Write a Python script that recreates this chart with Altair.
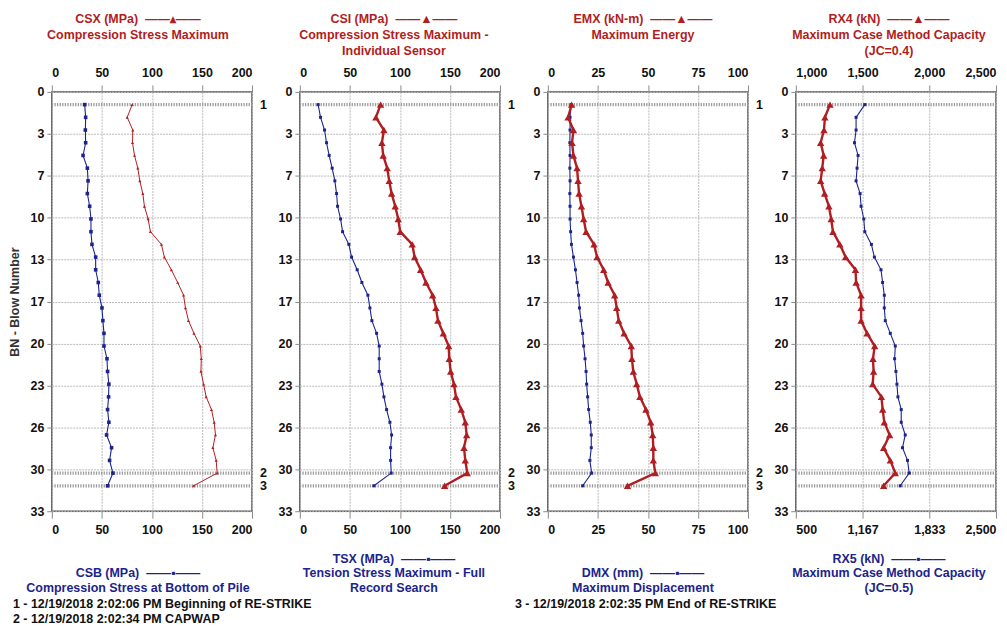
import altair as alt
import pandas as pd

# ---------------- data ----------------
blows = list(range(1, 32))

csx = [80.3, 75.3, 80.9, 80.6, 82.6, 85.9, 87.9, 90.9, 92.5, 96.2,
       98.5, 109.5, 112.4, 119.4, 125.7, 131.6, 133.5, 136.5, 142.0, 148.3,
       149.3, 149.0, 151.6, 154.2, 159.5, 162.2, 163.5, 160.9, 164.2, 165.2, 141.6]
csb = [32.8, 33.8, 33.5, 33.8, 31.2, 35.5, 36.2, 35.5, 37.8, 39.1,
       39.1, 40.1, 43.8, 43.8, 46.4, 47.4, 50.1, 51.0, 52.1, 52.1,
       55.1, 55.7, 57.0, 56.7, 55.7, 57.0, 54.7, 59.7, 57.7, 61.0, 55.7]
csi = [80.7, 76.0, 84.0, 82.0, 83.3, 87.3, 89.3, 91.7, 95.3, 98.3,
       100.3, 112.3, 114.7, 120.7, 126.0, 132.7, 136.0, 138.0, 143.3, 148.7,
       149.3, 150.7, 154.0, 156.0, 161.3, 165.3, 166.7, 164.0, 165.3, 167.3, 144.7]
tsx = [18.3, 20.7, 24.7, 26.7, 29.3, 32.3, 35.0, 36.7, 37.7, 40.7,
       42.7, 49.0, 51.7, 57.3, 62.0, 68.0, 70.0, 72.0, 76.7, 79.3,
       79.3, 79.3, 82.0, 84.0, 86.7, 90.0, 91.7, 90.7, 90.7, 91.3, 74.0]
emx = [11.9, 10.1, 12.8, 12.1, 12.8, 14.6, 15.1, 15.6, 16.8, 17.9,
       19.1, 23.1, 24.6, 27.9, 30.1, 33.4, 34.4, 35.4, 38.1, 41.7,
       42.0, 42.7, 44.4, 46.0, 49.0, 51.4, 52.4, 52.7, 52.7, 53.7, 39.8]
dmx = [11.6, 11.1, 11.1, 11.0, 11.1, 11.0, 11.1, 11.0, 11.1, 11.1,
       11.4, 11.8, 12.8, 13.8, 14.6, 15.4, 15.8, 16.6, 17.4, 17.9,
       18.6, 19.1, 19.4, 19.9, 20.4, 21.2, 21.7, 21.7, 21.0, 21.9, 17.4]
rx4 = [1256, 1218, 1211, 1186, 1209, 1198, 1186, 1216, 1248, 1265,
       1278, 1330, 1373, 1447, 1452, 1489, 1489, 1489, 1534, 1591,
       1578, 1583, 1576, 1641, 1651, 1663, 1703, 1658, 1708, 1745, 1658]
rx5 = [1189, 1102, 1102, 1086, 1122, 1112, 1102, 1142, 1152, 1179,
       1189, 1255, 1285, 1351, 1367, 1384, 1384, 1394, 1444, 1494,
       1487, 1500, 1510, 1520, 1553, 1553, 1593, 1566, 1616, 1633, 1543]

event_blows = [1, 30, 31]
event_labels = ["1", "2", "3"]
event_notes = ["1 - 12/19/2018 2:02:06 PM Beginning of RE-STRIKE",
               "2 - 12/19/2018 2:02:34 PM CAPWAP",
               "3 - 12/19/2018 2:02:35 PM End of RE-STRIKE"]

y_ticks = [0, 3.3, 6.6, 9.9, 13.2, 16.5, 19.8, 23.1, 26.4, 29.7, 33]
ticks_200 = [0, 50, 100, 150, 200]
ticks_100 = [0, 25, 50, 75, 100]
ticks_rx4 = [1000, 1500, 2000, 2500]
ticks_rx5 = [500, 1166.67, 1833.33, 2500]

# ---------------- styling ----------------
RED = "#b01e22"
BLUE = "#1c248c"
FONT = "Liberation Sans, Arial, sans-serif"
FS = 12.5
W, H = 201, 421
SP = "\u00a0"


def make_panel(red_vals, blue_vals, top_title, bottom_title, top_dom, top_ticks,
               bot_dom, bot_ticks, red_w, red_size, blue_size, title_x, bottom_x,
               first=False, show_events=True, footnote=None, foot_dx=0):
    df = pd.DataFrame({"blow": blows, "red": red_vals, "blue": blue_vals})
    ev = pd.DataFrame({"blow": event_blows, "label": event_labels})

    y_axis_kwargs = dict(values=y_ticks, labelExpr="format(datum.value, '.0f')",
                         grid=True, tickSize=5, labelPadding=3)
    if first:
        y_axis_kwargs.update(title="BN - Blow Number", titleX=-37, titleY=H / 2,
                             titleAngle=270, titleAlign="center", titleBaseline="middle",
                             titleColor="#333333", titleFontSize=FS, titleFontWeight="bold")
    else:
        y_axis_kwargs.update(title=None)
    yenc = alt.Y("blow:Q", scale=alt.Scale(domain=[0, 33], reverse=True, nice=False, zero=False),
                 axis=alt.Axis(**y_axis_kwargs))

    rules = alt.Chart(ev).mark_rule(color="#9c9c9c", strokeWidth=3.2,
                                    strokeDash=[1.3, 1.3]).encode(
        y=yenc, x=alt.value(0), x2=alt.value(W))

    red = alt.Chart(df).mark_line(
        color=RED, strokeWidth=red_w,
        point=alt.OverlayMarkDef(shape="triangle-up", filled=True, size=red_size,
                                 color=RED, opacity=1)).encode(
        x=alt.X("red:Q", scale=alt.Scale(domain=top_dom, nice=False, zero=False),
                axis=alt.Axis(orient="top", values=top_ticks, format=",.0f", grid=True,
                              tickSize=7, labelPadding=5, labelFlush=True,
                              title=top_title, titleX=title_x, titleY=-80,
                              titleAlign="center", titleBaseline="top", titleAngle=0,
                              titleColor=RED, titleFontSize=FS, titleFontWeight="bold",
                              titleLineHeight=16)),
        y=yenc,
        order=alt.Order("blow:Q"))

    # the bottom legend block is bottom-aligned: first line moves up by one line per extra line
    bottom_y = 84 - 15 * (len(bottom_title) - 1)
    blue = alt.Chart(df).mark_line(
        color=BLUE, strokeWidth=1.1,
        point=alt.OverlayMarkDef(shape="square", filled=True, size=blue_size,
                                 color=BLUE, opacity=1)).encode(
        x=alt.X("blue:Q", scale=alt.Scale(domain=bot_dom, nice=False, zero=False),
                axis=alt.Axis(orient="bottom", values=bot_ticks, format=",.0f", grid=False,
                              tickSize=7, labelPadding=5, labelFlush=True,
                              title=bottom_title, titleX=bottom_x, titleY=bottom_y,
                              titleAlign="center", titleBaseline="bottom", titleAngle=0,
                              titleColor=BLUE, titleFontSize=FS, titleFontWeight="bold",
                              titleLineHeight=15)),
        y=yenc,
        order=alt.Order("blow:Q"))

    layers = [rules, blue, red]
    if show_events:
        labels = alt.Chart(ev).mark_text(align="left", baseline="middle", font=FONT,
                                         fontSize=FS, fontWeight="bold",
                                         color="#111111").encode(
            y=yenc, x=alt.value(W + 8), text="label:N")
        layers.append(labels)

    props = dict(width=W, height=H)
    if footnote is not None:
        props["title"] = alt.TitleParams(text=footnote, orient="bottom", anchor="start",
                                         frame="group", dx=foot_dx, offset=4,
                                         font=FONT, fontSize=FS, fontWeight="bold",
                                         color="#111111", lineHeight=15)
    return alt.layer(*layers).resolve_scale(x="independent").properties(**props)


p1 = make_panel(csx, csb,
                ["CSX (MPa)" + SP + SP + "——▴——", "Compression Stress Maximum"],
                ["CSB (MPa)" + SP + SP + "——▪——", "Compression Stress at Bottom of Pile"],
                [0, 200], ticks_200, [0, 200], ticks_200,
                red_w=1.0, red_size=10, blue_size=13, title_x=86, bottom_x=86,
                first=True, footnote=event_notes[:2], foot_dx=-39)
p2 = make_panel(csi, tsx,
                ["CSI (MPa)" + SP + SP + "——▲——", "Compression Stress Maximum -", "Individual Sensor"],
                ["TSX (MPa)" + SP + SP + "——▪——", "Tension Stress Maximum - Full", "Record Search"],
                [0, 200], ticks_200, [0, 200], ticks_200,
                red_w=2.4, red_size=55, blue_size=9, title_x=94, bottom_x=94)
p3 = make_panel(emx, dmx,
                ["EMX (kN-m)" + SP + SP + "——▲——", "Maximum Energy"],
                ["DMX (mm)" + SP + SP + "——▪——", "Maximum Displacement"],
                [0, 100], ticks_100, [0, 100], ticks_100,
                red_w=2.4, red_size=55, blue_size=9, title_x=95, bottom_x=95,
                footnote=[event_notes[2]], foot_dx=-33)
p4 = make_panel(rx4, rx5,
                ["RX4 (kN)" + SP + SP + "——▲——", "Maximum Case Method Capacity", "(JC=0.4)"],
                ["RX5 (kN)" + SP + SP + "——▪——", "Maximum Case Method Capacity", "(JC=0.5)"],
                [1000, 2500], ticks_rx4, [500, 2500], ticks_rx5,
                red_w=2.4, red_size=55, blue_size=9, title_x=93, bottom_x=93,
                show_events=False)

chart = alt.hconcat(p1, p2, p3, p4, spacing=48, bounds="flush").properties(
    padding={"left": 0, "top": 2, "right": 0, "bottom": 0},
    background="white",
).configure_view(
    stroke="#555555", strokeWidth=1.5
).configure_axis(
    labelFont=FONT, labelFontSize=FS, labelFontWeight="bold", labelColor="#111111",
    titleFont=FONT, tickColor="#8a8a8a", domain=False, labelOverlap=False,
    gridColor="#b8b8b8", gridDash=[2, 1], gridWidth=1
).configure_title(font=FONT)

chart.save("out.html", embed_options={"renderer": "svg", "actions": False})
